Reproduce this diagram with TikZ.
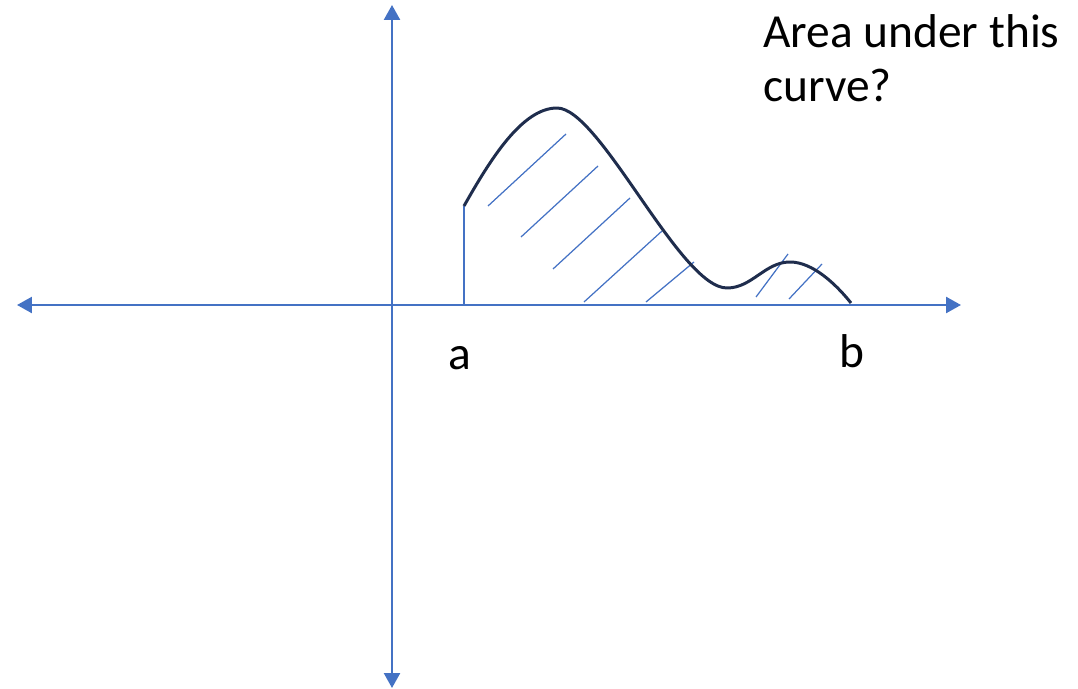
\documentclass[tikz,border=0pt]{standalone}
\usepackage{fontspec}
\setmainfont{Carlito}
\usepackage{xcolor}
\usetikzlibrary{arrows.meta}
\definecolor{axisblue}{RGB}{68,114,196}
\definecolor{curvenavy}{RGB}{31,45,77}

\begin{document}
\begin{tikzpicture}[x=0.02cm, y=-0.02cm,
    every node/.style={font=\fontsize{27}{31}\selectfont},
    axis/.style={axisblue, line width=1.4pt,
      {Triangle[length=0.3cm, width=0.32cm]}-{Triangle[length=0.3cm, width=0.32cm]}},
    hatch/.style={axisblue, line width=0.7pt}]
  \useasboundingbox (0,0) rectangle (1078,689);

  % Axis end points.
  \coordinate (xleft) at (17,305);
  \coordinate (xright) at (961,305);
  \coordinate (ytop) at (392,5);
  \coordinate (ybot) at (392,688);
  \coordinate (ta) at (464,305);
  \coordinate (fa) at (464,206);
  \coordinate (tb) at (851,303);

  % Axes.
  \draw[axis] (xleft) -- (xright);
  \draw[axis] (ybot) -- (ytop);

  % Left edge of the region at a.
  \draw[hatch] (ta) -- (fa);

  % Hatching under the curve.
  \foreach \xa/\ya/\xb/\yb in {
    488/206/566/134,
    521/237/598/166,
    553/269/630/198,
    584/302/662/231,
    646/302/694/262,
    756/297/788/254,
    789/299/822/264
  }{
    \draw[hatch] (\xa,\ya) -- (\xb,\yb);
  }

  % The curve.
  \draw[curvenavy, line width=1.7pt]
    (fa) .. controls (490,160) and (522,108) .. (557,108)
         .. controls (600,108) and (680,288) .. (727,288)
         .. controls (752,288) and (765,262) .. (790,262)
         .. controls (812,262) and (835,283) .. (tb);

  % Labels.
  \node[anchor=base] (la) at (460,369) {a};
  \node[anchor=base] (lb) at (852,367) {b};
  \node[anchor=base west, align=left] (q) at (757,102) {Area under this\\curve?};
\end{tikzpicture}
\end{document}
